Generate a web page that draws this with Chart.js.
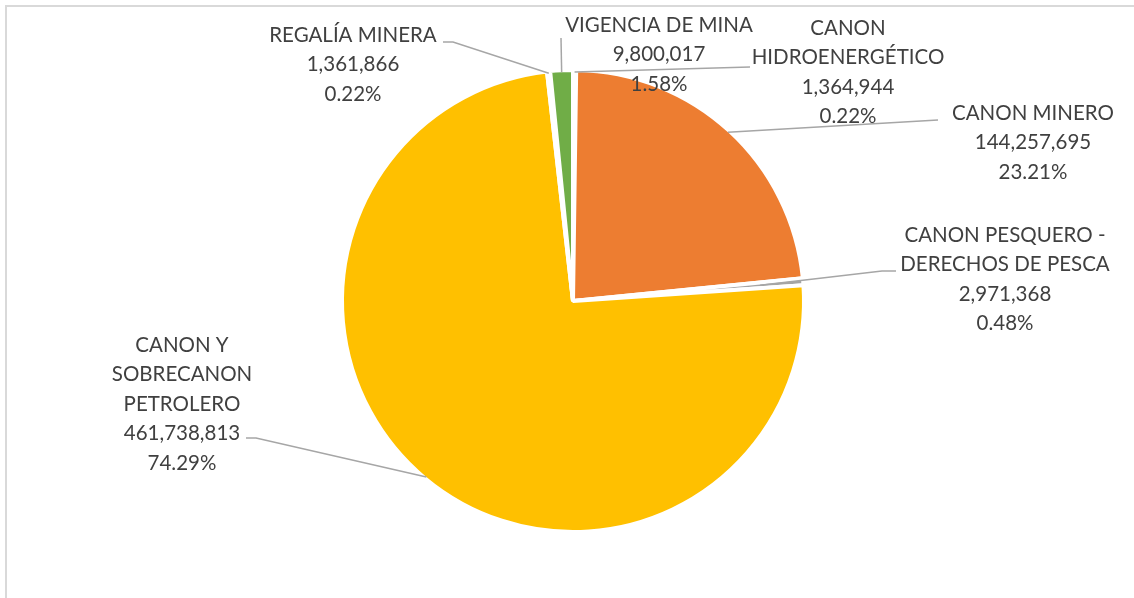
<!DOCTYPE html>
<html>
<head>
<meta charset="utf-8">
<script src="https://cdn.jsdelivr.net/npm/chart.js@4/dist/chart.umd.min.js"></script>
<style>
  body { margin: 0; background: #fff; }
  #grafico { display: block; }
</style>
</head>
<body>
<canvas id="grafico" width="1134" height="598"></canvas>
<script>
// datos del grafico
const categorias = [
  ['CANON', 'HIDROENERGÉTICO'],
  ['CANON MINERO'],
  ['CANON PESQUERO -', 'DERECHOS DE PESCA'],
  ['CANON Y', 'SOBRECANON', 'PETROLERO'],
  ['REGALÍA MINERA'],
  ['VIGENCIA DE MINA']
];
const montos = [1364944, 144257695, 2971368, 461738813, 1361866, 9800017];
const colores = ['#4472C4', '#ED7D31', '#A5A5A5', '#FFC000', '#5B9BD5', '#70AD47'];

// posicion de las etiquetas (centro del texto, primera linea) y codo de la linea guia
const etiquetas = [
  { x: 848, y: 28, guia: [[750, 67]] },
  { x: 1033, y: 113, guia: [[938, 120]] },
  { x: 1005, y: 235, guia: [[896, 271], [882, 271]], adentro: 0.82 },
  { x: 182, y: 345, guia: [[246, 438], [256, 438]] },
  { x: 353, y: 35, guia: [[443, 42], [453, 42]] },
  { x: 659, y: 25, guia: [[561, 38]] }
];

const total = montos.reduce((a, b) => a + b, 0);

const marco = {
  id: 'marco',
  beforeDraw(chart) {
    const ctx = chart.ctx;
    ctx.save();
    ctx.fillStyle = '#d9d9d9';
    ctx.fillRect(5, 5, 2, chart.height);
    ctx.fillRect(5, 5, chart.width, 2);
    ctx.restore();
  }
};

const rotulos = {
  id: 'rotulos',
  afterDraw(chart) {
    const ctx = chart.ctx;
    const arcos = chart.getDatasetMeta(0).data;
    ctx.save();
    // lineas guia
    ctx.strokeStyle = '#a6a6a6';
    ctx.lineWidth = 1.5;
    arcos.forEach((arco, i) => {
      const e = etiquetas[i];
      const p = arco.getProps(['x', 'y', 'startAngle', 'endAngle', 'outerRadius']);
      const ang = (p.startAngle + p.endAngle) / 2;
      const r = (p.outerRadius - 2) * (e.adentro || 1);
      ctx.beginPath();
      ctx.moveTo(e.guia[0][0], e.guia[0][1]);
      for (let k = 1; k < e.guia.length; k++) ctx.lineTo(e.guia[k][0], e.guia[k][1]);
      ctx.lineTo(p.x + r * Math.cos(ang), p.y + r * Math.sin(ang));
      ctx.stroke();
    });
    // textos
    ctx.fillStyle = '#404040';
    ctx.font = '20.5px Lato';
    ctx.textAlign = 'center';
    ctx.textBaseline = 'middle';
    montos.forEach((v, i) => {
      const e = etiquetas[i];
      const lineas = categorias[i].concat([
        v.toLocaleString('en-US'),
        (v / total * 100).toFixed(2) + '%'
      ]);
      lineas.forEach((t, k) => ctx.fillText(t, e.x, e.y + k * 29.5));
    });
    ctx.restore();
  }
};

new Chart(document.getElementById('grafico'), {
  type: 'pie',
  data: {
    labels: categorias.map(c => c.join(' ')),
    datasets: [{
      data: montos,
      backgroundColor: colores,
      borderColor: '#ffffff',
      borderWidth: 4
    }]
  },
  options: {
    responsive: false,
    animation: false,
    events: [],
    layout: { padding: { top: 68, bottom: 64, left: 340, right: 328 } },
    plugins: {
      legend: { display: false },
      tooltip: { enabled: false }
    }
  },
  plugins: [marco, rotulos]
});
</script>
</body>
</html>
